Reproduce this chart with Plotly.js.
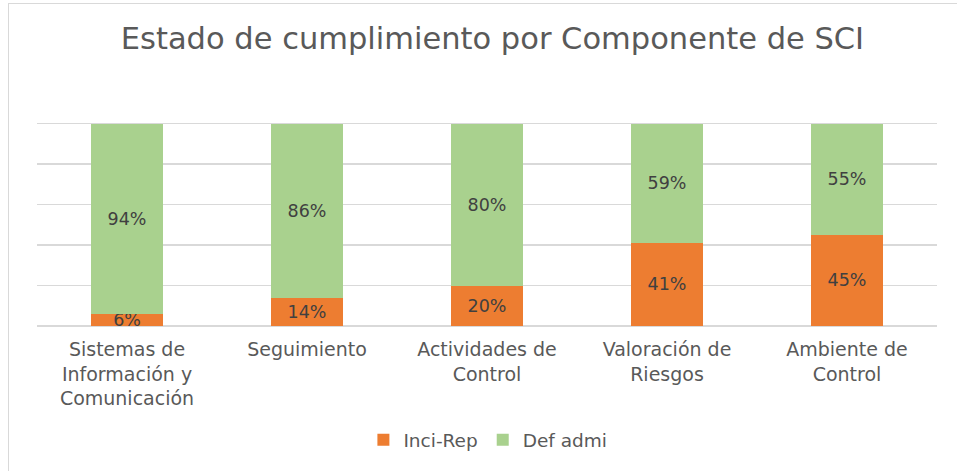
<!DOCTYPE html>
<html>
<head>
<meta charset="utf-8">
<script src="https://cdn.plot.ly/plotly-3.0.1.min.js"></script>
<style>
  html, body { margin: 0; padding: 0; background: #fff; }
  #wrap { position: relative; width: 957px; height: 471px; overflow: hidden; }
  #chart { position: absolute; left: 0; top: 0; width: 957px; height: 471px; }
  #frame { position: absolute; left: 8px; top: 3px; width: 980px; height: 500px; border: 1px solid #d9d9d9; pointer-events: none; }
</style>
</head>
<body>
<div id="wrap">
  <div id="chart"></div>
  <div id="frame"></div>
</div>
<script>
const categories = [
  "Sistemas de<br>Información y<br>Comunicación",
  "Seguimiento",
  "Actividades de<br>Control",
  "Valoración de<br>Riesgos",
  "Ambiente de<br>Control"
];
const inciRep = [0.06, 0.14, 0.20, 0.41, 0.45];
const defAdmi = [0.94, 0.86, 0.80, 0.59, 0.55];
const yTicks = [0, 0.2, 0.4, 0.6, 0.8, 1.0, 1.2];

const FONT = "DejaVu Sans, sans-serif";
const pct = v => Math.round(v * 100) + "%";
const labelFont = { family: FONT, size: 17.5, color: "#404040" };

const traces = [
  {
    type: "bar", name: "Inci-Rep", x: categories, y: inciRep,
    marker: { color: "#ED7D31" },
    text: inciRep.map(pct), textposition: "inside", insidetextanchor: "middle",
    constraintext: "none", textfont: labelFont, hoverinfo: "skip"
  },
  {
    type: "bar", name: "Def admi", x: categories, y: defAdmi,
    marker: { color: "#A9D18E" },
    text: defAdmi.map(pct), textposition: "inside", insidetextanchor: "middle",
    constraintext: "none", textfont: labelFont, hoverinfo: "skip"
  }
];

const layout = {
  width: 957, height: 471,
  margin: { l: 37, r: 20, t: 83, b: 145 },
  paper_bgcolor: "rgba(0,0,0,0)", plot_bgcolor: "rgba(0,0,0,0)",
  barmode: "stack",
  bargap: 0.605,
  font: { family: FONT, color: "#595959" },
  title: {
    text: "Estado de cumplimiento por Componente de SCI",
    font: { family: FONT, size: 30.5, color: "#595959" },
    x: 0.5146, xanchor: "center", y: 0.918, yanchor: "middle"
  },
  xaxis: {
    type: "category",
    tickfont: { family: FONT, size: 19, color: "#595959" },
    ticklabelstandoff: 10,
    showgrid: false, showline: false, ticks: "", fixedrange: true
  },
  yaxis: {
    range: [0, 1.2], tickvals: yTicks, showticklabels: false,
    showgrid: true, gridcolor: "#d9d9d9", gridwidth: 1.5,
    zeroline: true, zerolinecolor: "#d9d9d9", zerolinewidth: 1.5,
    showline: false, ticks: "", fixedrange: true
  },
  legend: {
    orientation: "h", x: 0.501, xanchor: "center", y: -0.47, yanchor: "middle",
    font: { family: FONT, size: 18.5, color: "#595959" },
    traceorder: "normal", itemclick: false
  },
  showlegend: true
};

Plotly.newPlot("chart", traces, layout, { displayModeBar: false, staticPlot: true });
</script>
</body>
</html>
